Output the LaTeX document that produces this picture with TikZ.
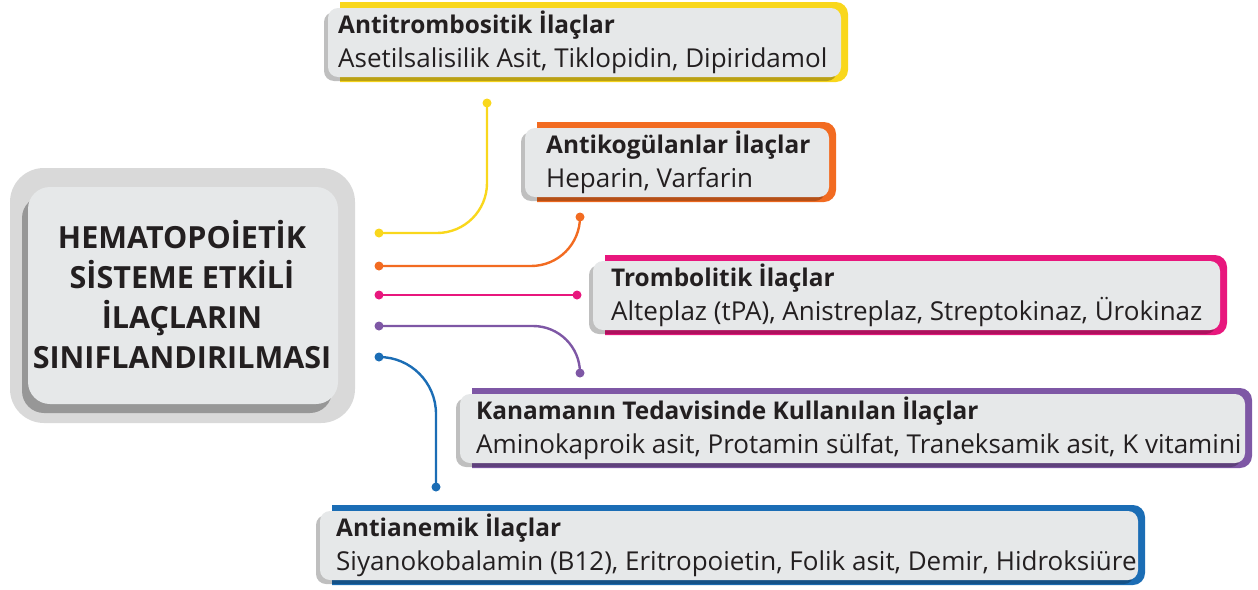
\documentclass[tikz,border=0pt]{standalone}
\usepackage{fontspec}
\setmainfont{Open Sans}
\usetikzlibrary{shadows}
\definecolor{cyel}{HTML}{F9D71C}
\definecolor{corg}{HTML}{F26B21}
\definecolor{cmag}{HTML}{E8177D}
\definecolor{cpur}{HTML}{7E57A5}
\definecolor{cblu}{HTML}{1B6DB5}
\definecolor{cardgray}{HTML}{E6E8E9}
\definecolor{txt}{HTML}{231F20}
\definecolor{outergray}{HTML}{D9D9D9}
\tikzset{
  titlestyle/.style={text=txt, inner sep=0pt, font=\fontsize{24.4}{28}\selectfont\bfseries},
  bodystyle/.style={text=txt, inner sep=0pt, font=\fontsize{26}{28}\selectfont},
  cardshadow/.style={drop shadow={shadow xshift=-4pt, shadow yshift=-4pt, opacity=0.25, fill=black}},
  dotnode/.style={circle, inner sep=0pt, minimum size=9pt, fill=#1},
  conn/.style={draw=#1, line width=2.4pt}
}
\newcommand{\mycard}[8]{%
  \fill[#2] (#3,-#4) -- ({#5-12},-#4) arc[start angle=90,end angle=0,radius=12pt] -- (#5,{-#4-68}) arc[start angle=0,end angle=-90,radius=12pt] -- (#3,{-#4-80}) -- cycle;
  \fill[cardgray, rounded corners=10pt, cardshadow] ({#3-12},{-#4-6}) rectangle ({#5-7},{-#4-75});
  \node[titlestyle, anchor=base west] (#1t) at (#6,{-#4-31}) {#7};
  \node[bodystyle, anchor=base west] (#1b) at (#6,{-#4-65}) {#8};
}
\begin{document}
\begin{tikzpicture}[x=1pt,y=1pt]
\useasboundingbox (0,0) rectangle (1258,-589);
% center box
\fill[outergray, rounded corners=34pt] (10,-168) rectangle (355,-423);
\fill[cardgray, rounded corners=22pt, drop shadow={shadow xshift=-6pt, shadow yshift=-9pt, opacity=0.3, fill=black}] (28,-187) rectangle (338,-404);
\node[align=center, text=txt, inner sep=0pt, font=\fontsize{30.5}{40}\selectfont\bfseries] (center) at (182,-295)
  {HEMATOPOİETİK\\SİSTEME ETKİLİ\\İLAÇLARIN\\SINIFLANDIRILMASI};
% cards
\mycard{c1}{cyel}{340}{2}{848}{338}{Antitrombositik İlaçlar}{Asetilsalisilik Asit, Tiklopidin, Dipiridamol}
\mycard{c2}{corg}{537}{122}{836}{546}{Antikogülanlar İlaçlar}{Heparin, Varfarin}
\mycard{c3}{cmag}{605}{255}{1227}{611}{Trombolitik İlaçlar}{Alteplaz (tPA), Anistreplaz, Streptokinaz, Ürokinaz}
\mycard{c4}{cpur}{472}{388}{1252}{476}{Kanamanın Tedavisinde Kullanılan İlaçlar}{Aminokaproik asit, Protamin sülfat, Traneksamik asit, K vitamini}
\mycard{c5}{cblu}{332}{505}{1145}{336}{Antianemik İlaçlar}{Siyanokobalamin (B12), Eritropoietin, Folik asit, Demir, Hidroksiüre}
% connectors
\node[dotnode=cyel] (s1) at (379,-233) {};
\node[dotnode=corg] (s2) at (379,-266) {};
\node[dotnode=cmag] (s3) at (379,-295) {};
\node[dotnode=cpur] (s4) at (379,-326) {};
\node[dotnode=cblu] (s5) at (379,-357) {};
\node[dotnode=cyel] (e1) at (487,-103) {};
\node[dotnode=corg] (e2) at (580,-217) {};
\node[dotnode=cmag] (e3) at (577,-295) {};
\node[dotnode=cpur] (e4) at (580,-373) {};
\node[dotnode=cblu] (e5) at (436,-487) {};
\draw[conn=cyel] (s1.center) -- (437,-233) to[out=0,in=-90] (487,-183) -- (e1.center);
\draw[conn=corg] (s2.center) -- (531,-266) to[out=0,in=-90] (e2.center);
\draw[conn=cmag] (s3.center) -- (e3.center);
\draw[conn=cpur] (s4.center) -- (533,-326) to[out=0,in=90] (e4.center);
\draw[conn=cblu] (s5.center) to[out=0,in=90] (436,-414) -- (e5.center);
\end{tikzpicture}
\end{document}
